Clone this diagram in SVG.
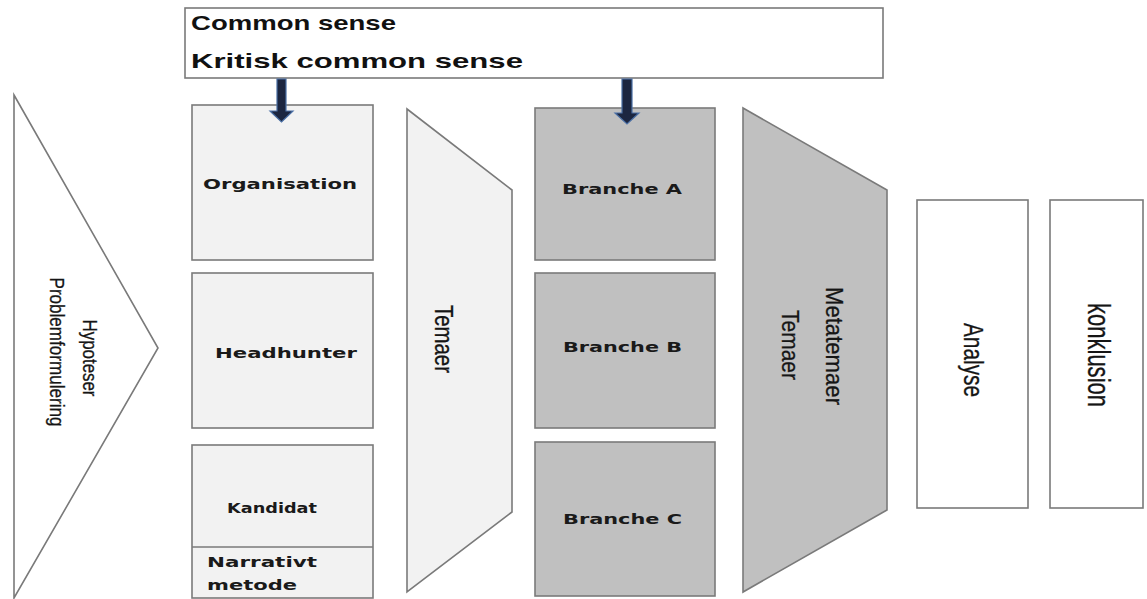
<svg xmlns="http://www.w3.org/2000/svg" width="1147" height="599" viewBox="0 0 1147 599">
<style>
.shp{stroke:#7a7a7a;stroke-width:1.6}
.lt{fill:#f2f2f2}
.dk{fill:#c0c0c0}
.wh{fill:#ffffff}
.bt{font-family:"DejaVu Sans","Liberation Sans",sans-serif;font-weight:bold;font-size:14px;fill:#1a1a1a}
.hd{font-family:"Liberation Sans",sans-serif;font-weight:bold;font-size:21px;fill:#111}
.vt{font-family:"Liberation Sans",sans-serif;fill:#151515;text-anchor:middle;stroke:#151515;stroke-width:0.3}
.arr{fill:#1c2640;stroke:#4a6fa5;stroke-width:1.2}
</style>
<rect width="1147" height="599" fill="#ffffff"/>
<g id="hypotese">
<polygon class="shp wh" points="14,95 158,348 14,598"/>
<text class="vt" font-size="21" transform="translate(83,358) rotate(90)" textLength="77" lengthAdjust="spacingAndGlyphs">Hypoteser</text>
<text class="vt" font-size="21" transform="translate(50,352) rotate(90)" textLength="149" lengthAdjust="spacingAndGlyphs">Problemformulering</text>
</g>
<g id="commonsense">
<rect class="shp wh" x="185" y="8" width="698" height="70"/>
<text class="hd" x="191" y="30" textLength="205" lengthAdjust="spacingAndGlyphs">Common sense</text>
<text class="hd" x="191" y="68" textLength="332" lengthAdjust="spacingAndGlyphs">Kritisk common sense</text>
</g>
<g id="organisation">
<rect class="shp lt" x="192" y="105" width="181" height="155"/>
<text class="bt" x="203" y="189" textLength="154" lengthAdjust="spacingAndGlyphs">Organisation</text>
</g>
<g id="headhunter">
<rect class="shp lt" x="192" y="273" width="181" height="155"/>
<text class="bt" x="215" y="358" textLength="142" lengthAdjust="spacingAndGlyphs">Headhunter</text>
</g>
<g id="kandidat">
<rect class="shp lt" x="192" y="445" width="181" height="153"/>
<line class="shp" x1="192" y1="547" x2="373" y2="547"/>
<text class="bt" x="227" y="513" textLength="90" lengthAdjust="spacingAndGlyphs">Kandidat</text>
<text class="bt" x="207" y="567" textLength="110" lengthAdjust="spacingAndGlyphs">Narrativt</text>
<text class="bt" x="207" y="590" textLength="90" lengthAdjust="spacingAndGlyphs">metode</text>
</g>
<g id="temaer">
<polygon class="shp lt" points="407,109 512,190 512,512 407,592"/>
<text class="vt" font-size="25" transform="translate(435,339) rotate(90)" textLength="68" lengthAdjust="spacingAndGlyphs">Temaer</text>
</g>
<g id="brancheA">
<rect class="shp dk" x="535" y="108" width="180" height="152"/>
<text class="bt" x="562" y="194" textLength="120" lengthAdjust="spacingAndGlyphs">Branche A</text>
</g>
<g id="brancheB">
<rect class="shp dk" x="535" y="273" width="180" height="155"/>
<text class="bt" x="563" y="352" textLength="119" lengthAdjust="spacingAndGlyphs">Branche B</text>
</g>
<g id="brancheC">
<rect class="shp dk" x="535" y="442" width="180" height="154"/>
<text class="bt" x="563" y="524" textLength="119" lengthAdjust="spacingAndGlyphs">Branche C</text>
</g>
<g id="metatemaer">
<polygon class="shp dk" points="743,108 887,190 887,510 743,592"/>
<text class="vt" font-size="24" transform="translate(826,346) rotate(90)" textLength="118" lengthAdjust="spacingAndGlyphs">Metatemaer</text>
<text class="vt" font-size="24" transform="translate(782,345) rotate(90)" textLength="70" lengthAdjust="spacingAndGlyphs">Temaer</text>
</g>
<g id="analyse">
<rect class="shp wh" x="917" y="200" width="111" height="308"/>
<text class="vt" font-size="28" transform="translate(964,360) rotate(90)" textLength="74" lengthAdjust="spacingAndGlyphs">Analyse</text>
</g>
<g id="konklusion">
<rect class="shp wh" x="1050" y="200" width="93" height="308"/>
<text class="vt" font-size="32" transform="translate(1088,355) rotate(90)" textLength="104" lengthAdjust="spacingAndGlyphs">konklusion</text>
</g>
<g id="connectors">
<polygon class="arr" points="277,79 286,79 286,111 293,111 281.5,122 270,111 277,111"/>
<polygon class="arr" points="622,79 632,79 632,113 639,113 627,124 615,113 622,113"/>
</g>
</svg>
